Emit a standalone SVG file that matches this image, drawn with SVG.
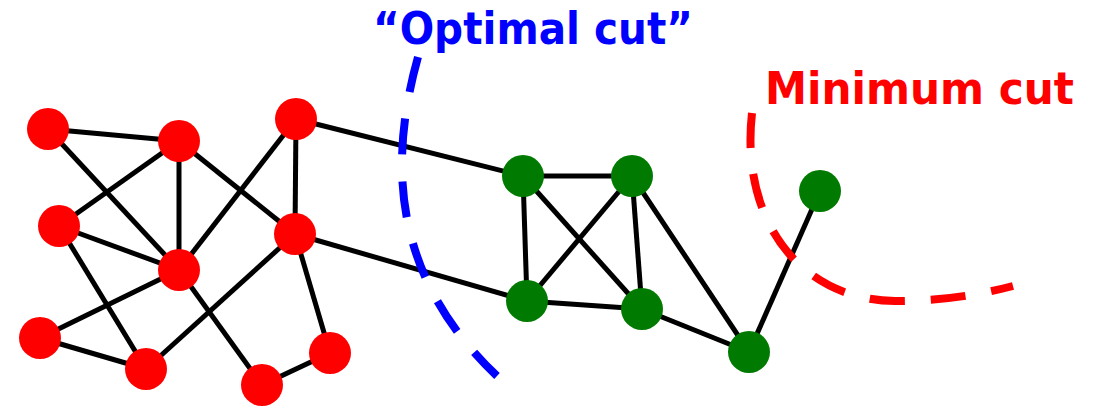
<svg xmlns="http://www.w3.org/2000/svg" width="1094" height="407" viewBox="0 0 1094 407">
<style>
.e{stroke:#000;stroke-width:5;fill:none}
.r{fill:#ff0000}
.g{fill:#007a00}
.lbl{font-family:"DejaVu Sans",Verdana,sans-serif;font-weight:bold;font-size:45px}
.cut{fill:none;stroke-width:8}
</style>
<rect width="1094" height="407" fill="#fff"/>
<g id="connectors">
<line class="e" x1="48" y1="129" x2="179" y2="141"/>
<line class="e" x1="48" y1="129" x2="179" y2="270"/>
<line class="e" x1="179" y1="141" x2="59" y2="226"/>
<line class="e" x1="179" y1="141" x2="179" y2="270"/>
<line class="e" x1="179" y1="141" x2="295" y2="234"/>
<line class="e" x1="296" y1="119" x2="179" y2="270"/>
<line class="e" x1="296" y1="119" x2="295" y2="234"/>
<line class="e" x1="296" y1="119" x2="523" y2="176"/>
<line class="e" x1="59" y1="226" x2="179" y2="270"/>
<line class="e" x1="59" y1="226" x2="146" y2="369"/>
<line class="e" x1="40" y1="338" x2="179" y2="270"/>
<line class="e" x1="40" y1="338" x2="146" y2="369"/>
<line class="e" x1="146" y1="369" x2="295" y2="234"/>
<line class="e" x1="179" y1="270" x2="262" y2="385"/>
<line class="e" x1="295" y1="234" x2="330" y2="353"/>
<line class="e" x1="262" y1="385" x2="330" y2="353"/>
<line class="e" x1="295" y1="234" x2="527" y2="301"/>
<line class="e" x1="523" y1="176" x2="632" y2="176"/>
<line class="e" x1="523" y1="176" x2="527" y2="301"/>
<line class="e" x1="523" y1="176" x2="642" y2="309"/>
<line class="e" x1="632" y1="176" x2="527" y2="301"/>
<line class="e" x1="632" y1="176" x2="642" y2="309"/>
<line class="e" x1="527" y1="301" x2="642" y2="309"/>
<line class="e" x1="632" y1="176" x2="749" y2="352"/>
<line class="e" x1="642" y1="309" x2="749" y2="352"/>
<line class="e" x1="749" y1="352" x2="820" y2="191"/>
</g>
<g id="red-nodes">
<circle id="n1" class="r" cx="48" cy="129" r="21"/>
<circle id="n2" class="r" cx="179" cy="141" r="21"/>
<circle id="n3" class="r" cx="296" cy="119" r="21"/>
<circle id="n4" class="r" cx="59" cy="226" r="21"/>
<circle id="n5" class="r" cx="295" cy="234" r="21"/>
<circle id="n6" class="r" cx="179" cy="270" r="21"/>
<circle id="n7" class="r" cx="40" cy="338" r="21"/>
<circle id="n8" class="r" cx="146" cy="369" r="21"/>
<circle id="n9" class="r" cx="262" cy="385" r="21"/>
<circle id="n10" class="r" cx="330" cy="353" r="21"/>
</g>
<g id="green-nodes">
<circle id="n11" class="g" cx="523" cy="176" r="21"/>
<circle id="n12" class="g" cx="632" cy="176" r="21"/>
<circle id="n13" class="g" cx="527" cy="301" r="21"/>
<circle id="n14" class="g" cx="642" cy="309" r="21"/>
<circle id="n15" class="g" cx="820" cy="191" r="21"/>
<circle id="n16" class="g" cx="749" cy="352" r="21"/>
</g>
<g id="optimal-cut">
<path class="cut" stroke="#0000ff" stroke-dasharray="36 27" d="M418,57 C392,150 385,270 497,376"/>
<text class="lbl" fill="#0000ff" x="373" y="44" textLength="320" lengthAdjust="spacingAndGlyphs">“Optimal cut”</text>
</g>
<g id="minimum-cut">
<path class="cut" stroke="#ff0000" stroke-dasharray="35 26" d="M752,113 C740,220 800,300 895,301 C950,301 990,292 1013,286"/>
<text class="lbl" fill="#ff0000" x="765" y="104" textLength="309" lengthAdjust="spacingAndGlyphs">Minimum cut</text>
</g>
</svg>
